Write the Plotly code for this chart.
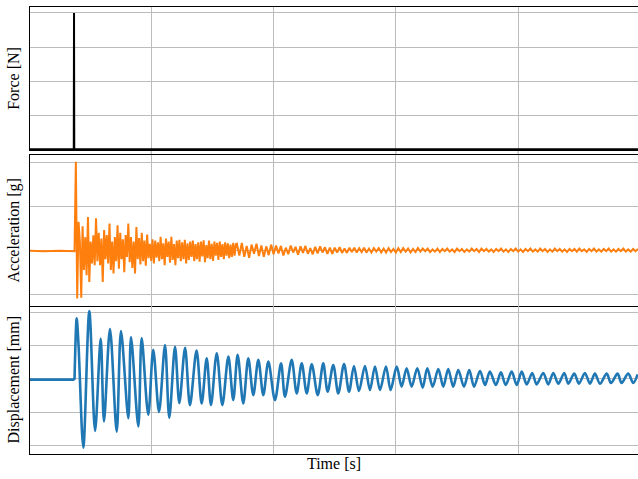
import plotly.graph_objects as go

# ---------------- data ----------------
# Force impulse [N] (normalised height), time in s
force_t = [0.0, 0.366, 0.368, 0.370, 4.98]
force_v = [0.0, 0.0, 1.0, 0.0, 0.0]

# Displacement before the impact (mm)
disp_pre_t = [0.008, 0.372]
disp_pre_v = [-0.02, -0.02]

# Displacement extremes after the impact (time s, value mm)
disp_t = [0.372, 0.390, 0.405, 0.444, 0.493, 0.540, 0.586, 0.613, 0.662,
          0.717, 0.752, 0.812, 0.834, 0.894, 0.921, 0.975, 1.016, 1.063, 1.112,
          1.147, 1.194, 1.229, 1.276, 1.316, 1.370, 1.412, 1.453, 1.488, 1.535,
          1.581, 1.630, 1.670, 1.706, 1.752, 1.793, 1.834, 1.875, 1.916, 1.957,
          2.011, 2.061, 2.093, 2.148, 2.189, 2.230, 2.271, 2.312, 2.361, 2.406,
          2.442, 2.488, 2.529, 2.576, 2.617, 2.657, 2.698, 2.747, 2.788, 2.829,
          2.870, 2.919, 2.957, 3.007, 3.047, 3.088, 3.129, 3.175, 3.219, 3.257,
          3.301, 3.347, 3.388, 3.428, 3.469, 3.510, 3.557, 3.600, 3.639, 3.688,
          3.729, 3.769, 3.818, 3.859, 3.898, 3.947, 3.988, 4.029, 4.070, 4.115,
          4.151, 4.205, 4.246, 4.287, 4.328, 4.377, 4.410, 4.459, 4.497, 4.546,
          4.587, 4.628, 4.669, 4.724, 4.759, 4.813, 4.846, 4.900, 4.941, 4.977]
disp_v = [-0.02, 1.81, 1.00, -2.05, 2.03, -1.55, 1.21, -1.27, 1.49,
          -1.57, 1.43, -1.17, 1.25, -1.42, 1.22, -1.07, 0.87, -0.98, 1.01,
          -1.16, 0.96, -0.72, 0.93, -0.78, 0.85, -0.73, 0.62, -0.78, 0.77,
          -0.78, 0.67, -0.63, 0.72, -0.73, 0.62, -0.48, 0.57, -0.48, 0.52,
          -0.63, 0.47, -0.53, 0.57, -0.43, 0.47, -0.43, 0.44, -0.48, 0.47,
          -0.38, 0.42, -0.43, 0.45, -0.38, 0.39, -0.36, 0.39, -0.33, 0.37,
          -0.33, 0.37, -0.33, 0.37, -0.23, 0.32, -0.23, 0.32, -0.26, 0.32,
          -0.23, 0.30, -0.23, 0.30, -0.23, 0.27, -0.23, 0.27, -0.23, 0.24,
          -0.18, 0.22, -0.18, 0.20, -0.18, 0.22, -0.18, 0.22, -0.16, 0.18,
          -0.16, 0.18, -0.16, 0.18, -0.14, 0.18, -0.14, 0.16, -0.14, 0.18,
          -0.14, 0.16, -0.14, 0.16, -0.12, 0.16, -0.12, 0.16, -0.12, 0.14]

# Acceleration [g]: before impact, then two uniformly sampled stretches
acc_pre_t = [0.0, 0.12, 0.25, 0.36]
acc_pre_v = [-0.01, -0.02, -0.01, -0.02]

acc_early_start = 0.372
acc_early_dt = 0.011
acc_early_v = [-0.02, 2.02, -1.10, 0.65, 0.20, -1.08, 0.55, -0.45, 0.30, -0.57,
               0.76, -0.72, 0.20, -0.30, 0.34, -0.34, 0.73, -0.25, 0.40, -0.34,
               0.27, -0.72, 0.46, -0.20, 0.35, -0.30, 0.61, -0.45, 0.20, -0.53,
               0.30, -0.25, 0.57, -0.42, 0.40, -0.20, 0.25, -0.50, 0.35, -0.15,
               0.61, -0.27, 0.30, -0.40, 0.20, -0.53, 0.53, -0.20, 0.28, -0.32,
               0.40, -0.25, 0.22, -0.35, 0.36, -0.18, 0.15, -0.24, 0.25, -0.30,
               0.22, -0.17, 0.18, -0.25, 0.31, -0.20, 0.16, -0.34, 0.27, -0.15,
               0.20, -0.28, 0.31, -0.22, 0.14, -0.34, 0.22, -0.18, 0.24, -0.25,
               0.18, -0.20, 0.24, -0.30, 0.16, -0.22, 0.20, -0.15, 0.22, -0.25,
               0.14, -0.20, 0.18, -0.26, 0.20, -0.14, 0.23, -0.27, 0.12, -0.18,
               0.22, -0.20, 0.15, -0.24, 0.20, -0.12, 0.17, -0.22, 0.20, -0.15,
               0.14, -0.20, 0.18, -0.12, 0.16, -0.18, 0.13, -0.15, 0.17, -0.12,
               0.14]

acc_late_start = 1.70
acc_late_dt = 0.02
acc_late_v = [0.15, -0.12, 0.17, -0.15, 0.10, -0.17, 0.13, -0.08, 0.15, -0.13,
              0.11, -0.15, 0.09, -0.11, 0.13,
              -0.09, 0.11, -0.07, 0.10, -0.12, 0.06, -0.09, 0.11, -0.05, 0.08,
              -0.10, 0.09, -0.06, 0.10, -0.08, 0.05, -0.09, 0.08, -0.07, 0.09,
              -0.05, 0.07, -0.08, 0.06, -0.08,
              0.06, -0.05, 0.07, -0.06, 0.04, -0.06, 0.06, -0.04, 0.06, -0.05,
              0.05, -0.04, 0.06, -0.05, 0.04, -0.05, 0.05, -0.03, 0.05, -0.05,
              0.04, -0.05, 0.05, -0.04, 0.03, -0.05, 0.05, -0.04, 0.05, -0.03,
              0.04, -0.05, 0.03, -0.04, 0.05,
              -0.03, 0.04, -0.02, 0.04, -0.04, 0.02, -0.03, 0.04, -0.04, 0.03,
              -0.02, 0.04, -0.03, 0.02, -0.04, 0.04, -0.02, 0.03, -0.04, 0.02,
              -0.03, 0.04, -0.02, 0.03, -0.04, 0.04, -0.02, 0.03, -0.03, 0.02,
              -0.04, 0.03, -0.02, 0.04, -0.03, 0.02, -0.04, 0.03, -0.02, 0.04,
              -0.03, 0.02, -0.04, 0.03, -0.02, 0.04, -0.03, 0.02, -0.03, 0.04,
              -0.02, 0.03, -0.04, 0.02, -0.03, 0.04, -0.02, 0.03, -0.03, 0.02,
              -0.04, 0.03, -0.02, 0.03, -0.03, 0.04, -0.02, 0.02, -0.04, 0.03,
              -0.02, 0.04, -0.03, 0.02, -0.03, 0.03, -0.02, 0.04, -0.03, 0.02,
              -0.03, 0.03, -0.02, 0.04, -0.03, 0.02, -0.03, 0.03, -0.02, 0.03]

acc_t = (acc_pre_t
         + [acc_early_start + acc_early_dt * i for i in range(len(acc_early_v))]
         + [acc_late_start + acc_late_dt * i for i in range(len(acc_late_v))])
acc_v = acc_pre_v + acc_early_v + acc_late_v

labels = ["Force [N]", "Acceleration [g]", "Displacement [mm]"]
x_label = "Time [s]"

# ---------------- figure ----------------
FONT = "Liberation Serif"
FSIZE = 16
GRID = "#bcbcbc"
x_range = [0.008, 4.98]
BLUE = "#1f77b4"

fig = go.Figure()
fig.add_trace(go.Scatter(x=force_t, y=force_v, mode="lines",
                         line=dict(color="black", width=2),
                         xaxis="x", yaxis="y", showlegend=False))
fig.add_trace(go.Scatter(x=acc_t, y=acc_v, mode="lines",
                         line=dict(color="#ff7f0e", width=2),
                         xaxis="x2", yaxis="y2", showlegend=False))
fig.add_trace(go.Scatter(x=disp_pre_t, y=disp_pre_v, mode="lines",
                         line=dict(color=BLUE, width=2.6),
                         xaxis="x3", yaxis="y3", showlegend=False))
fig.add_trace(go.Scatter(x=disp_t, y=disp_v, mode="lines",
                         line=dict(color=BLUE, width=2.6, shape="spline", smoothing=0.9),
                         xaxis="x3", yaxis="y3", showlegend=False))

def xax(anchor, title=None, mirror=True):
    d = dict(anchor=anchor, range=x_range, tick0=0, dtick=1,
             showgrid=True, gridcolor=GRID, gridwidth=1.3,
             showline=True, linecolor="black", linewidth=1, mirror=mirror,
             showticklabels=False, ticks="", zeroline=False)
    if title:
        d["title"] = dict(text=title, font=dict(family=FONT, size=FSIZE, color="black"),
                          standoff=3)
    return d

def yax(anchor, domain, rng, dtick, title):
    return dict(anchor=anchor, domain=domain, range=rng, dtick=dtick, tick0=0,
                showgrid=True, gridcolor=GRID, gridwidth=1.3,
                showline=True, linecolor="black", linewidth=1, mirror=False,
                showticklabels=False, ticks="", zeroline=False,
                title=dict(text=title, font=dict(family=FONT, size=FSIZE, color="black"),
                           standoff=5))

fig.update_layout(
    width=638, height=479,
    margin=dict(l=30, r=0, t=7, b=25),
    paper_bgcolor="white", plot_bgcolor="white",
    xaxis=xax("y"),
    xaxis2=dict(xax("y2"), matches="x"),
    xaxis3=dict(xax("y3", x_label, mirror=False), matches="x"),
    yaxis=yax("x", [0.6801, 1.0], [-0.006, 1.044], 0.25, labels[0]),
    yaxis2=yax("x2", [0.3322, 0.6689], [-1.259, 2.174], 1, labels[1]),
    yaxis3=yax("x3", [0.0, 0.3322], [-2.239, 2.194], 1, labels[2]),
)

# vertical grid lines continue through the small gap between the top panels
for gx in [1, 2, 3, 4]:
    fig.add_shape(type="line", xref="x", yref="paper", x0=gx, x1=gx,
                  y0=0.6689, y1=0.6801, line=dict(color=GRID, width=1.3), layer="below")

fig.write_html("out.html")
